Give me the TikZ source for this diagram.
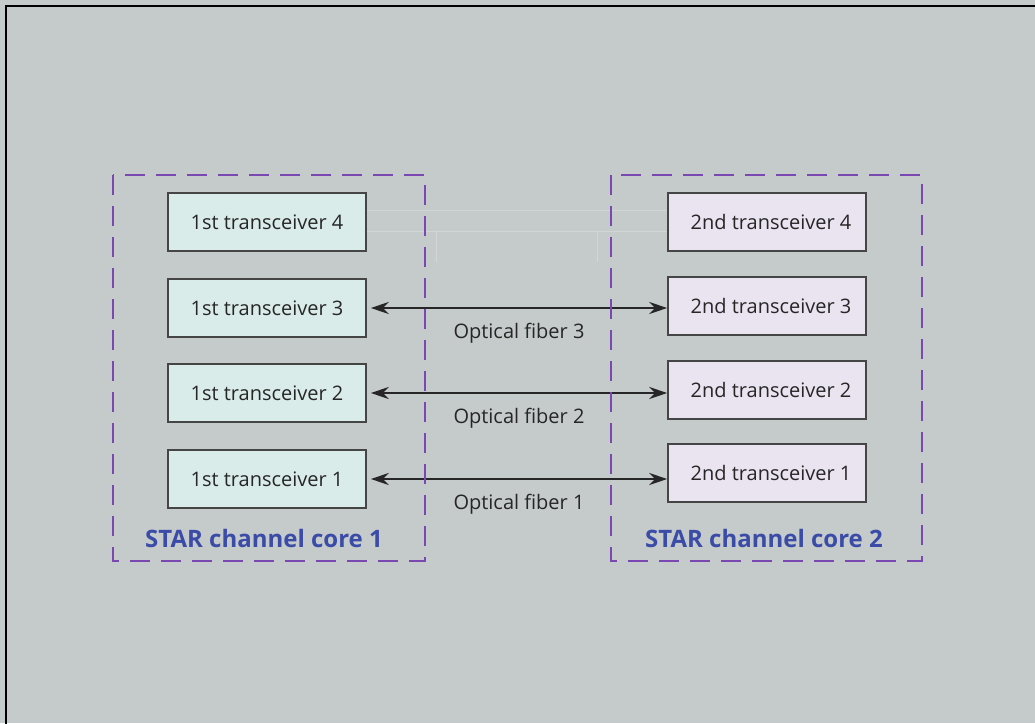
\documentclass[tikz,border=0pt]{standalone}
\usepackage{fontspec}
\setmainfont{Open Sans}
\usetikzlibrary{arrows.meta,calc}
\definecolor{bg}{HTML}{C5CBCA}
\definecolor{fillA}{HTML}{D9ECE9}
\definecolor{fillB}{HTML}{EAE3F0}
\definecolor{boxline}{HTML}{454545}
\definecolor{txt}{HTML}{262626}
\definecolor{dashc}{HTML}{7B47B0}
\definecolor{corec}{HTML}{3B4BA8}
\definecolor{ghost}{HTML}{D2D7D6}
\tikzset{
  tbox/.style={draw=boxline, line width=1.6pt, minimum width=198pt, minimum height=58pt, inner sep=0pt, text=txt, font=\fontsize{20}{23}\selectfont},
  tboxA/.style={tbox, fill=fillA},
  tboxB/.style={tbox, fill=fillB},
  core/.style={draw=dashc, line width=2.8pt, dash pattern=on 20pt off 11pt},
  corelabel/.style={text=corec, font=\bfseries\fontsize{24}{27}\selectfont},
  fiber/.style={draw=txt, line width=2.6pt, {Stealth[length=18pt,width=12pt]}-{Stealth[length=18pt,width=12pt]}},
  fiberlabel/.style={text=txt, font=\fontsize{20}{23}\selectfont},
  ghostline/.style={draw=ghost, line width=1pt}
}
\begin{document}
\begin{tikzpicture}[x=1pt,y=-1pt]
\useasboundingbox (0,0) rectangle (1035,723);
\fill[bg] (0,0) rectangle (1035,723);
\draw[black, line width=2.6pt] (6,730) -- (6,6) -- (1040,6);

% transceivers
\node[tboxA] (l4) at (267,222) {1st transceiver 4};
\node[tboxA] (l3) at (267,308) {1st transceiver 3};
\node[tboxA] (l2) at (267,393) {1st transceiver 2};
\node[tboxA] (l1) at (267,479) {1st transceiver 1};
\node[tboxB] (r4) at (767,222) {\hspace*{8pt}2nd transceiver 4};
\node[tboxB] (r3) at (767,306) {\hspace*{8pt}2nd transceiver 3};
\node[tboxB] (r2) at (767,390) {\hspace*{8pt}2nd transceiver 2};
\node[tboxB] (r1) at (767,473) {\hspace*{8pt}2nd transceiver 1};

% faint ghost channel between transceivers 4
\coordinate (g1) at (l4.east |- 0,210);
\coordinate (g2) at (r4.west |- 0,210);
\coordinate (g3) at (l4.east |- 0,231);
\coordinate (g4) at (r4.west |- 0,231);
\draw[ghostline] (g1) -- (g2);
\draw[ghostline] (g3) -- (g4);
\coordinate (gv1) at (436,231);
\coordinate (gv2) at (436,262);
\coordinate (gv3) at (597,231);
\coordinate (gv4) at (597,262);
\draw[ghostline] (gv1) -- (gv2);
\draw[ghostline] (gv3) -- (gv4);

% fibers
\foreach \i in {3,2,1}{
  \coordinate (a\i) at ($(l\i.east)+(4,0)$);
  \coordinate (b\i) at (r\i.west |- a\i);
  \draw[fiber] (a\i) -- (b\i) node[midway, below=11pt, fiberlabel] {Optical fiber \i};
}

% channel cores
\node[corelabel] (c1) at (264,538) {STAR channel core 1};
\node[corelabel] (c2) at (764,538) {STAR channel core 2};
\draw[core] (113,175) rectangle (425,561);
\draw[core] (611,175) rectangle (922,561);
\end{tikzpicture}
\end{document}
